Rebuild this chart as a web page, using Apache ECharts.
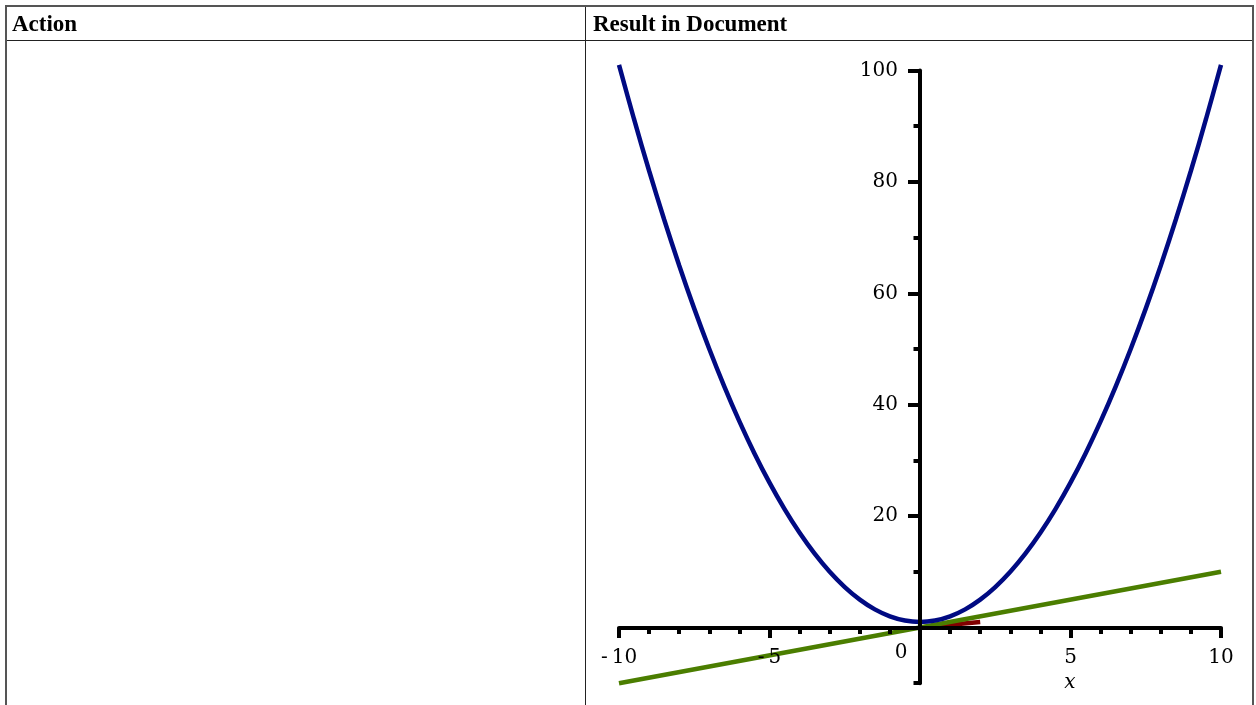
<!DOCTYPE html>
<html><head><meta charset="utf-8">
<script src="https://cdn.jsdelivr.net/npm/echarts@6/dist/echarts.min.js"></script>
<style>
html,body{margin:0;padding:0;background:#fff;width:1256px;height:705px;overflow:hidden;}
#chart{position:absolute;left:0;top:0;width:1256px;height:705px;}
.b{position:absolute;background:#555;}
.h{position:absolute;font-family:"Liberation Serif","Times New Roman",serif;font-weight:bold;font-size:23px;line-height:23px;color:#000;white-space:nowrap;}
</style></head><body>
<div id="chart"></div>
<div class="b" style="left:5px;top:5px;width:1249px;height:2px"></div>
<div class="b" style="left:5px;top:5px;width:2px;height:700px"></div>
<div class="b" style="left:1252px;top:5px;width:2px;height:700px"></div>
<div class="b" style="left:7px;top:40px;width:1245px;height:1px;background:#222"></div>
<div class="b" style="left:585px;top:7px;width:1px;height:698px;background:#222"></div>
<div class="h" style="left:12px;top:12px">Action</div>
<div class="h" style="left:593px;top:12px">Result in Document</div>
<script>
// Header texts
const headers = ['Action', 'Result in Document'];

// Blue curve
const curveX = [-10,-9.5,-9,-8.5,-8,-7.5,-7,-6.5,-6,-5.5,-5,-4.5,-4,-3.5,-3,-2.5,-2,-1.5,-1,-0.5,0,0.5,1,1.5,2,2.5,3,3.5,4,4.5,5,5.5,6,6.5,7,7.5,8,8.5,9,9.5,10];
const curveY = [101,91.25,82,73.25,65,57.25,50,43.25,37,31.25,26,21.25,17,13.25,10,7.25,5,3.25,2,1.25,1,1.25,2,3.25,5,7.25,10,13.25,17,21.25,26,31.25,37,43.25,50,57.25,65,73.25,82,91.25,101];

// Green line
const lineX = [-10, 10];
const lineY = [-10, 10];

// Dark red segment
const redX = [0, 2];
const redY = [0, 1];

// Axis ticks / labels
const yLabelValues = [20, 40, 60, 80, 100];

function pairs(xs, ys) { return xs.map((x, i) => [x, ys[i]]); }

const FONT = 'DejaVu Serif';
const X_LABEL_GAP = 20, X_NAME_GAP = 33, Y_LABEL_GAP = 22;
const chart = echarts.init(document.getElementById('chart'));
chart.setOption({
  animation: false,
  grid: { left: 619, right: 35, top: 70.5, bottom: 21.8, containLabel: false, outerBoundsMode: 'none' },
  xAxis: [{
    type: 'value', min: -10, max: 10, interval: 5, z: 5,
    axisLine: { onZero: true, onZeroAxisIndex: 0, lineStyle: { color: '#000', width: 4 } },
    axisTick: { length: 10.5, lineStyle: { color: '#000', width: 4 } },
    minorTick: { show: true, splitNumber: 5, length: 6.5, lineStyle: { color: '#000', width: 4 } },
    splitLine: { show: false }, minorSplitLine: { show: false },
    axisLabel: {
      margin: X_LABEL_GAP, fontFamily: FONT, fontSize: 20, color: '#000', lineHeight: 20,
      showMinLabel: true, showMaxLabel: true,
      formatter: function (v) {
        if (v === 0) return '{z|0}';
        return v < 0 ? '-\u2009' + Math.abs(v) : String(v);
      },
      rich: { z: { fontFamily: FONT, fontSize: 20, color: '#000', lineHeight: 11, padding: [0, 38, 0, 0] } }
    },
    name: 'x', nameLocation: 'middle', nameGap: X_NAME_GAP,
    nameTextStyle: { fontFamily: FONT, fontStyle: 'italic', fontSize: 20, color: '#000', lineHeight: 20, padding: [0, 0, 0, 300] }
  }, {
    type: 'value', min: -10, max: 10, interval: 5, show: false, position: 'top',
    axisLine: { onZero: false }, splitLine: { show: false }
  }],
  yAxis: [{
    type: 'value', min: -10, max: 100, interval: 10, z: 5, position: 'left',
    axisLine: { onZero: true, onZeroAxisIndex: 0, lineStyle: { color: '#000', width: 4 } },
    axisTick: { length: 6.5, lineStyle: { color: '#000', width: 4 } },
    axisLabel: { show: false },
    splitLine: { show: false }
  }, {
    type: 'value', min: -10, max: 100, interval: 10, z: 5, position: 'left',
    axisLine: { show: false, onZero: true, onZeroAxisIndex: 1 },
    axisTick: { length: 12, customValues: yLabelValues, lineStyle: { color: '#000', width: 4 } },
    axisLabel: { customValues: yLabelValues, margin: Y_LABEL_GAP, fontFamily: FONT, fontSize: 20, color: '#000' },
    splitLine: { show: false }
  }],
  series: [
    { type: 'line', data: pairs(redX, redY), showSymbol: false, symbol: 'none', clip: false,
      lineStyle: { color: '#800000', width: 4.5, cap: 'butt' }, z: 2 },
    { type: 'line', data: pairs(lineX, lineY), showSymbol: false, symbol: 'none', clip: false,
      lineStyle: { color: '#4b7e00', width: 4.5, cap: 'butt' }, z: 2 },
    { type: 'line', data: pairs(curveX, curveY), showSymbol: false, symbol: 'none', smooth: 0.3, clip: false,
      lineStyle: { color: '#000a82', width: 4.5, cap: 'butt' }, z: 2 }
  ]
});
// Labels of on-zero axes stay at the grid edge; move them next to the axis lines.
const origin = chart.convertToPixel({ gridIndex: 0 }, [0, 0]);
const corner = chart.convertToPixel({ gridIndex: 0 }, [-10, -10]);
const dx = origin[0] - corner[0];
const dy = corner[1] - origin[1];
chart.setOption({
  xAxis: [{ axisLabel: { margin: X_LABEL_GAP - dy }, nameGap: X_NAME_GAP - dy }, {}],
  yAxis: [{}, { axisLabel: { margin: Y_LABEL_GAP - dx } }]
});
</script>
</body></html>
